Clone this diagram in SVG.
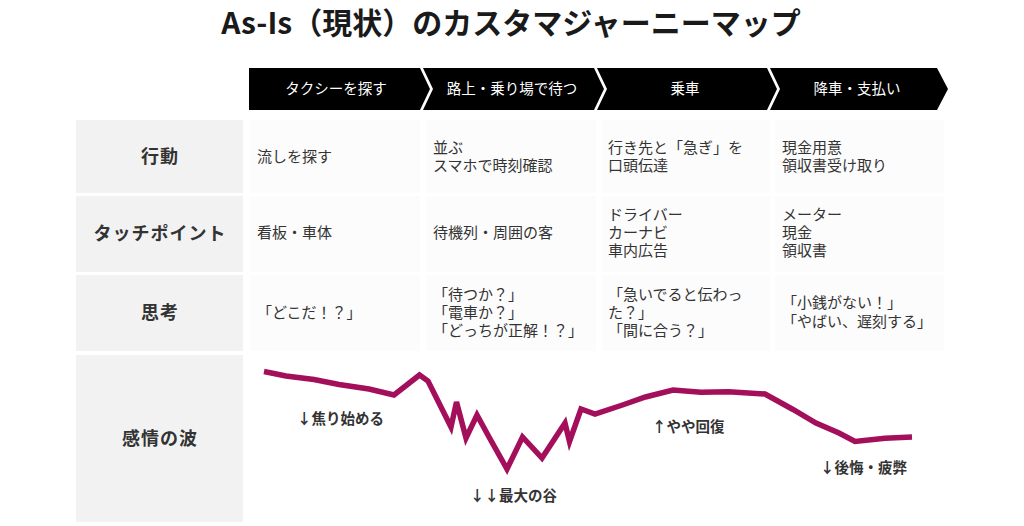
<svg xmlns="http://www.w3.org/2000/svg" width="1024" height="526" viewBox="0 0 1024 526">
<style>
text{font-family:"Noto Sans CJK JP","Noto Sans",sans-serif;}
.title{font-size:30px;font-weight:700;fill:#1a1a1a;}
.step{fill:#000;}
.steptxt{font-size:14.5px;fill:#fff;text-anchor:middle;}
.lab{fill:#f2f2f2;}
.labtxt{font-size:18px;font-weight:700;fill:#333;text-anchor:middle;letter-spacing:1px;}
.cell{fill:#fcfcfc;}
.ct{font-size:15px;fill:#333;}
.wave{fill:none;stroke:#a30f5a;stroke-width:5.5;stroke-linejoin:miter;stroke-linecap:butt;}
.note{font-size:14.5px;font-weight:700;fill:#333;}
</style>
<rect width="1024" height="526" fill="#fff"/>
<g id="title"><text class="title" x="511" y="34" text-anchor="middle">As-Is（現状）のカスタマジャーニーマップ</text></g>
<g id="steps">
<g id="step1"><path class="step" d="M249,68 L420,68 L430,89 L420,110 L249,110 Z"/><text class="steptxt" x="336" y="94">タクシーを探す</text></g>
<g id="step2"><path class="step" d="M423,68 L594,68 L604,89 L594,110 L423,110 L433,89 Z"/><text class="steptxt" x="512" y="94">路上・乗り場で待つ</text></g>
<g id="step3"><path class="step" d="M597,68 L767,68 L777,89 L767,110 L597,110 L607,89 Z"/><text class="steptxt" x="685" y="94">乗車</text></g>
<g id="step4"><path class="step" d="M770,68 L937,68 L948,89 L937,110 L770,110 L780,89 Z"/><text class="steptxt" x="857" y="94">降車・支払い</text></g>
</g>
<g id="row-action">
<rect class="lab" x="76" y="120" width="167" height="73"/><text class="labtxt" x="160" y="163">行動</text>
<rect class="cell" x="250" y="120" width="170" height="73"/>
<rect class="cell" x="426" y="120" width="170" height="73"/>
<rect class="cell" x="602" y="120" width="168" height="73"/>
<rect class="cell" x="775" y="120" width="169" height="73"/>
<text class="ct" x="257" y="162">流しを探す</text>
<text class="ct" x="433" y="153">並ぶ</text><text class="ct" x="433" y="171">スマホで時刻確認</text>
<text class="ct" x="608" y="153">行き先と「急ぎ」を</text><text class="ct" x="608" y="171">口頭伝達</text>
<text class="ct" x="782" y="153">現金用意</text><text class="ct" x="782" y="171">領収書受け取り</text>
</g>
<g id="row-touch">
<rect class="lab" x="76" y="196" width="167" height="76"/><text class="labtxt" x="160" y="240">タッチポイント</text>
<rect class="cell" x="250" y="196" width="170" height="76"/>
<rect class="cell" x="426" y="196" width="170" height="76"/>
<rect class="cell" x="602" y="196" width="168" height="76"/>
<rect class="cell" x="775" y="196" width="169" height="76"/>
<text class="ct" x="257" y="238">看板・車体</text>
<text class="ct" x="433" y="238">待機列・周囲の客</text>
<text class="ct" x="608" y="220">ドライバー</text><text class="ct" x="608" y="238">カーナビ</text><text class="ct" x="608" y="256">車内広告</text>
<text class="ct" x="782" y="220">メーター</text><text class="ct" x="782" y="238">現金</text><text class="ct" x="782" y="256">領収書</text>
</g>
<g id="row-think">
<rect class="lab" x="76" y="275" width="167" height="76"/><text class="labtxt" x="160" y="319">思考</text>
<rect class="cell" x="250" y="275" width="170" height="76"/>
<rect class="cell" x="426" y="275" width="170" height="76"/>
<rect class="cell" x="602" y="275" width="168" height="76"/>
<rect class="cell" x="775" y="275" width="169" height="76"/>
<text class="ct" x="257" y="318">「どこだ！？」</text>
<text class="ct" x="433" y="300">「待つか？」</text><text class="ct" x="433" y="318">「電車か？」</text><text class="ct" x="433" y="336">「どっちが正解！？」</text>
<text class="ct" x="608" y="300">「急いでると伝わっ</text><text class="ct" x="608" y="318">た？」</text><text class="ct" x="608" y="336">「間に合う？」</text>
<text class="ct" x="782" y="308">「小銭がない！」</text><text class="ct" x="782" y="327">「やばい、遅刻する」</text>
</g>
<g id="row-emotion">
<rect class="lab" x="76" y="355" width="167" height="167"/><text class="labtxt" x="160" y="445">感情の波</text>
</g>
<g id="connectors">
<polyline class="wave" points="264,371.5 286,376 314,379.5 339,384.5 369,389 394,395 419.5,375 428,381 451,427 456.5,402 466,438 477,415 489,437 507,469 522.5,437 542,458 565,423 569.5,441.5 581,409 595,414 622.5,405 645.5,397 673,390 701,392.3 728.5,391.7 765,394 793,409.5 816,423 839,433 855,441.5 885,438.3 912,437"/>
</g>
<g id="notes">
<text class="note" x="297" y="424">↓焦り始める</text>
<text class="note" x="470" y="501">↓↓最大の谷</text>
<text class="note" x="652" y="432">↑やや回復</text>
<text class="note" x="820" y="473">↓後悔・疲弊</text>
</g>
</svg>
